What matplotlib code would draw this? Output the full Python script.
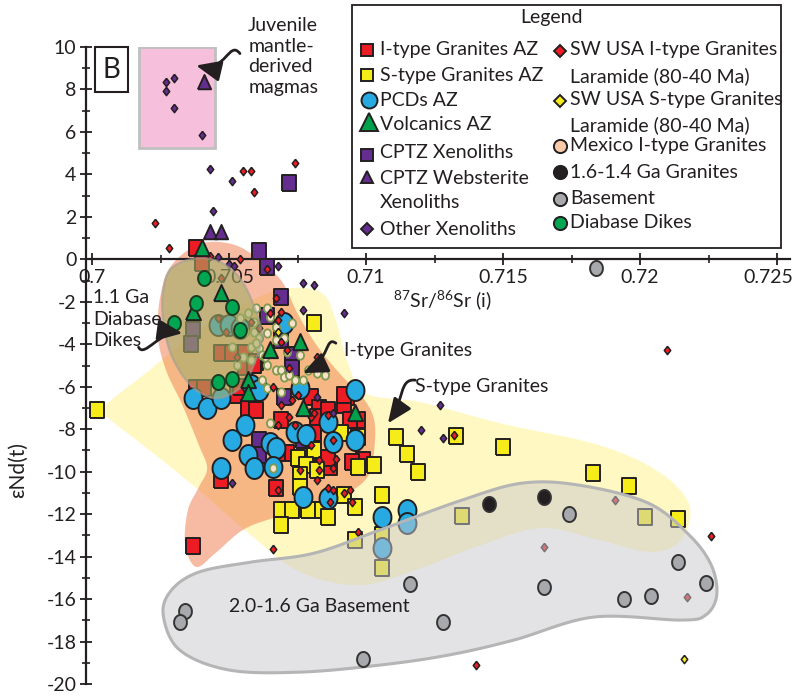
import numpy as np
import matplotlib
matplotlib.use("Agg")
import matplotlib.pyplot as plt
import matplotlib.transforms as mtransforms
from matplotlib.path import Path
from matplotlib.patches import Polygon, Rectangle, FancyArrowPatch
from matplotlib.lines import Line2D
from matplotlib.ticker import MultipleLocator, FixedLocator

plt.rcParams['font.family'] = ['Lato', 'DejaVu Sans']
plt.rcParams['axes.unicode_minus'] = False
plt.rcParams['mathtext.fontset'] = 'custom'
plt.rcParams['mathtext.rm'] = 'Lato'

# ---------------- data: (87Sr/86Sr(i), eNd(t)) ----------------
ITYPE = [(0.7038, 0.52), (0.7040, -0.19), (0.7038, -6.07), (0.7041, -6.07),
         (0.7047, -4.42), (0.7051, -4.42), (0.7056, -4.42), (0.7056, -5.08),
         (0.7060, -4.85), (0.7053, -6.40), (0.7057, -7.01), (0.7060, -7.11),
         (0.7062, -8.75), (0.7059, -4.99), (0.7054, -6.02), (0.7080, -6.49),
         (0.7083, -7.01), (0.7093, -6.49), (0.7092, -6.87), (0.7097, -7.58),
         (0.7082, -7.44), (0.7086, -7.11), (0.7080, -8.52), (0.7069, -7.58),
         (0.7071, -9.13), (0.7068, -9.13), (0.7099, -9.46), (0.7084, -9.55),
         (0.7087, -9.79), (0.7094, -7.58), (0.7086, -9.36), (0.7095, -9.55),
         (0.7067, -10.78), (0.7081, -8.19), (0.7037, -13.51), (0.7047, -10.40),
         (0.7092, -6.40)]

STYPE = [(0.7002, -7.11), (0.7081, -3.01), (0.7081, -8.99), (0.7075, -9.36),
         (0.7078, -9.69), (0.7082, -9.93), (0.7076, -10.16), (0.7076, -10.73),
         (0.7069, -11.81), (0.7073, -11.81), (0.7079, -11.81), (0.7084, -11.81),
         (0.7086, -12.14), (0.7069, -12.52), (0.7092, -11.11), (0.7096, -11.67),
         (0.7097, -9.79), (0.7103, -9.69), (0.7106, -11.11), (0.7111, -8.38),
         (0.7115, -9.18), (0.7119, -10.02), (0.7133, -8.33), (0.7150, -8.85),
         (0.7106, -12.99), (0.7106, -14.54), (0.7096, -13.22), (0.7135, -12.09),
         (0.7091, -8.19), (0.7183, -10.07), (0.7196, -10.68), (0.7202, -12.14),
         (0.7214, -12.24), (0.7097, -8.38)]

PCD = [(0.7037, -6.54), (0.7042, -7.01), (0.7047, -6.54), (0.7056, -7.81),
       (0.7051, -8.52), (0.7057, -9.22), (0.7047, -9.84), (0.7059, -9.84),
       (0.7065, -8.66), (0.7070, -3.01), (0.7046, -3.11), (0.7050, -3.11),
       (0.7054, -3.25), (0.7076, -6.07), (0.7096, -6.16), (0.7058, -5.93),
       (0.7061, -6.16), (0.7086, -7.67), (0.7074, -8.14), (0.7078, -8.28),
       (0.7088, -8.61), (0.7096, -8.52), (0.7067, -8.89), (0.7066, -9.79),
       (0.7077, -11.20), (0.7086, -11.25), (0.7106, -12.14), (0.7115, -11.81),
       (0.7115, -12.42), (0.7106, -13.60)]

VOLCANICS = [(0.7040, 0.52), (0.7047, -1.60), (0.7037, -2.49), (0.7065, -4.28),
             (0.7076, -3.91), (0.7057, -5.69), (0.7057, -6.31), (0.7077, -7.01),
             (0.7096, -7.25)]

CPTZ_XENO = [(0.7072, 3.58), (0.7061, 0.38), (0.7064, -0.38), (0.7069, -1.79),
             (0.7064, -2.68), (0.7069, -3.81), (0.7073, -4.52), (0.7073, -5.13),
             (0.7070, -6.49), (0.7061, -8.52), (0.7061, -9.22), (0.7077, -8.52),
             (0.7037, -3.34), (0.7036, -4.00)]

CPTZ_WEBST = [(0.7041, 8.33), (0.7043, 1.27), (0.7047, 1.27)]

OTHER_XENO = [(0.7027, 8.33), (0.7030, 8.52), (0.7027, 7.95), (0.7030, 7.15),
              (0.7040, 5.84), (0.7043, 4.24), (0.7051, 3.67), (0.7044, 2.26),
              (0.7046, 0.09), (0.7050, -0.24), (0.7052, -0.33), (0.7068, -0.33),
              (0.7077, -1.13), (0.7081, -1.22), (0.7077, -2.40), (0.7092, -2.54),
              (0.7127, -6.87), (0.7120, -8.05), (0.7128, -8.42), (0.7051, -10.54),
              (0.7082, -6.49), (0.7088, -7.25)]

SWUSA_I = [(0.7055, 4.14), (0.7058, 4.14), (0.7059, 3.15), (0.7074, 4.52),
           (0.7023, 1.69), (0.7028, 0.52), (0.7043, 0.14), (0.7054, 0.00),
           (0.7064, -0.47), (0.7210, -4.28), (0.7226, -13.04), (0.7191, -11.34),
           (0.7165, -13.55), (0.7217, -15.91), (0.7140, -19.11), (0.7066, -13.65),
           (0.7132, -8.28), (0.7047, -0.89), (0.7046, -2.78), (0.7049, -3.44),
           (0.7053, -4.61), (0.7058, -2.96), (0.7061, -3.25), (0.7065, -2.54),
           (0.7068, -2.87), (0.7069, -3.91), (0.7071, -4.28), (0.7072, -5.13),
           (0.7067, -1.84), (0.7084, -5.08), (0.7082, -4.61), (0.7066, -6.02),
           (0.7069, -6.87), (0.7072, -7.44), (0.7075, -6.40), (0.7074, -7.81),
           (0.7068, -7.81), (0.7080, -7.44), (0.7080, -8.75), (0.7088, -8.52),
           (0.7083, -9.93), (0.7076, -9.93), (0.7083, -9.46), (0.7073, -6.64),
           (0.7089, -9.41), (0.7088, -9.84), (0.7082, -10.40), (0.7086, -10.78),
           (0.7088, -10.87), (0.7087, -11.44), (0.7094, -10.87), (0.7095, -11.44),
           (0.7092, -11.01), (0.7097, -12.85), (0.7068, -10.87), (0.7081, -7.25),
           (0.7069, -2.49), (0.7086, -7.34)]

SWUSA_S = [(0.7068, -3.44), (0.7216, -18.82)]

MEXICO = [(0.7057, -2.54), (0.7059, -2.96), (0.7056, -3.44), (0.7059, -3.44),
          (0.7061, -3.72), (0.7058, -4.14), (0.7061, -4.19), (0.7062, -4.52),
          (0.7064, -2.31), (0.7065, -2.73), (0.7067, -3.20), (0.7064, -3.48),
          (0.7067, -3.81), (0.7064, -4.99), (0.7067, -5.22), (0.7069, -5.22),
          (0.7070, -5.55), (0.7072, -5.46), (0.7074, -5.69), (0.7073, -3.01),
          (0.7071, -4.38), (0.7077, -5.69), (0.7085, -5.46), (0.7064, -6.07),
          (0.7065, -7.72), (0.7069, -6.26), (0.7051, -4.14), (0.7058, -4.75),
          (0.7070, -3.72), (0.7060, -2.31), (0.7055, -4.61), (0.7053, -4.99),
          (0.7062, -5.69), (0.7076, -4.52), (0.7079, -5.22), (0.7082, -5.36),
          (0.7063, -4.61), (0.7066, -9.84), (0.7060, -3.95), (0.7054, -2.78)]

GRANITES_1614 = [(0.7145, -11.53), (0.7165, -11.20)]

BASEMENT = [(0.7174, -12.00), (0.7214, -14.26), (0.7224, -15.25), (0.7204, -15.86),
            (0.7194, -16.00), (0.7165, -15.44), (0.7116, -15.29), (0.7128, -17.08),
            (0.7034, -16.56), (0.7032, -17.08), (0.7099, -18.82), (0.7184, -0.42)]

DIABASE = [(0.7041, -0.89), (0.7051, -2.26), (0.7030, -3.01), (0.7054, -3.34),
           (0.7046, -5.79), (0.7051, -5.65), (0.7038, -2.07)]

# ---------------- compositional fields (outline vertices) ----------------
FIELD_STYPE = [(0.7004, -7.01), (0.7021, -5.22), (0.7039, -3.34), (0.7058, -1.93),
               (0.7072, -1.36), (0.7084, -1.60), (0.7089, -2.87), (0.7093, -4.75),
               (0.7100, -6.31), (0.7120, -6.73), (0.7149, -7.72), (0.7185, -8.75),
               (0.7207, -10.02), (0.7218, -11.58), (0.7215, -13.22), (0.7204, -13.79),
               (0.7185, -13.22), (0.7164, -12.66), (0.7142, -13.46), (0.7120, -14.54),
               (0.7098, -15.34), (0.7076, -14.73), (0.7058, -12.99), (0.7039, -10.87),
               (0.7021, -8.99), (0.7007, -7.58)]

FIELD_ITYPE = [(0.7025, -1.69), (0.7029, -0.28), (0.7039, 0.71), (0.7050, 0.75),
               (0.7059, 0.19), (0.7069, -0.99), (0.7075, -2.54), (0.7082, -4.05),
               (0.7091, -5.46), (0.7099, -6.54), (0.7103, -7.58), (0.7103, -8.99),
               (0.7101, -10.16), (0.7094, -10.96), (0.7081, -11.67), (0.7066, -12.19),
               (0.7055, -12.75), (0.7045, -13.84), (0.7038, -14.49), (0.7034, -13.46),
               (0.7035, -11.81), (0.7039, -10.73), (0.7042, -9.84), (0.7039, -8.75),
               (0.7033, -6.87), (0.7027, -5.22), (0.7024, -3.58)]

FIELD_DIABASE = [(0.7029, -0.42), (0.7038, 0.05), (0.7047, -0.14), (0.7054, -0.89),
                 (0.7059, -2.16), (0.7062, -3.58), (0.7059, -4.99), (0.7054, -6.07),
                 (0.7045, -6.54), (0.7036, -5.93), (0.7029, -4.52), (0.7026, -2.87),
                 (0.7026, -1.46)]

FIELD_BASEMENT = [(0.7026, -16.75), (0.7029, -15.58), (0.7039, -14.73), (0.7058, -14.26),
                  (0.7081, -13.84), (0.7105, -12.75), (0.7135, -11.34), (0.7157, -10.54),
                  (0.7178, -10.64), (0.7203, -11.48), (0.7218, -12.99), (0.7226, -14.40),
                  (0.7228, -15.81), (0.7224, -16.75), (0.7215, -16.99), (0.7183, -16.85),
                  (0.7154, -17.93), (0.7130, -18.64), (0.7105, -19.11), (0.7076, -19.44),
                  (0.7050, -19.34), (0.7032, -18.40)]

JUVENILE_BOX = (0.7017, 5.22, 0.70449, 9.98)   # x0, y0, x1, y1

XTICKS = [0.7, 0.705, 0.71, 0.715, 0.72, 0.725]
XTICK_LABELS = ['0.7', '0.705', '0.71', '0.715', '0.72', '0.725']

LEGEND_LEFT = ['I-type Granites AZ', 'S-type Granites AZ', 'PCDs AZ', 'Volcanics AZ',
               'CPTZ Xenoliths', 'CPTZ Websterite', 'Xenoliths', 'Other Xenoliths']
LEGEND_RIGHT = ['SW USA I-type Granites', 'Laramide (80-40 Ma)', 'SW USA S-type Granites',
                'Laramide (80-40 Ma)', 'Mexico I-type Granites', '1.6-1.4 Ga Granites',
                'Basement', 'Diabase Dikes']

# ---------------- styling ----------------
INK = '#231f20'
RED = '#ed1c24'
YELLOW = '#f5ec1a'
BLUE = '#27aae1'
GREEN = '#00a14b'
PURPLE = '#662d91'
GREY = '#a7a9ac'
DIAB_GREEN = '#00a651'
MEX_FACE = '#f8e2cc'
MEX_EDGE = '#7d9a4e'

_t = np.linspace(0, 2 * np.pi, 61)
ELLIPSE = np.column_stack([np.cos(_t), 1.17 * np.sin(_t)])
TALL_SQ = [(-1, -1.17), (1, -1.17), (1, 1.17), (-1, 1.17), (-1, -1.17)]
TRI = [(-0.88, -0.9), (0.88, -0.9), (0, 1.0), (-0.88, -0.9)]
DIAM = [(0, 1.1), (0.85, 0), (0, -1.1), (-0.85, 0), (0, 1.1)]


def smooth_closed(pts, n=24):
    p = np.asarray(pts, float)
    m = len(p)
    t = np.linspace(0, 1, n, endpoint=False)[:, None]
    out = []
    for i in range(m):
        p0, p1, p2, p3 = p[i - 1], p[i], p[(i + 1) % m], p[(i + 2) % m]
        out.append(0.5 * (2 * p1 + (-p0 + p2) * t + (2 * p0 - 5 * p1 + 4 * p2 - p3) * t ** 2
                          + (-p0 + 3 * p1 - 3 * p2 + p3) * t ** 3))
    return np.vstack(out)


fig = plt.figure(figsize=(7.99, 6.97), dpi=100)
ax = fig.add_axes([86 / 799, 13 / 697, 704 / 799, 637 / 697])
ax.set_xlim(0.699781, 0.725474)
ax.set_ylim(-20, 10)

# fields
ax.add_patch(Polygon(smooth_closed(FIELD_STYPE), closed=True, fc='#fff8c2', ec='none', zorder=1))
ax.add_patch(Polygon(smooth_closed(FIELD_ITYPE), closed=True, fc='#f07848', alpha=0.5, ec='none', zorder=1.5))
x0, y0, x1, y1 = JUVENILE_BOX
ax.add_patch(Rectangle((x0, y0), x1 - x0, y1 - y0, fc='#f6bfdc', ec='#c0c0c0', lw=2, zorder=2))


def pts(data, marker, s, fc, ec=INK, lw=1.4, z=3):
    a = np.asarray(data)
    ax.scatter(a[:, 0], a[:, 1], marker=marker, s=s, facecolors=fc, edgecolors=ec,
               linewidths=lw, zorder=z)


pts(ITYPE, TALL_SQ, 125, RED, z=3.0)
pts(STYPE, TALL_SQ, 125, YELLOW, z=3.1)
pts(CPTZ_XENO, TALL_SQ, 125, PURPLE, z=3.2)
pts(PCD, ELLIPSE, 228, BLUE, z=3.3)
pts(MEXICO, ELLIPSE, 36, MEX_FACE, ec=MEX_EDGE, lw=1.3, z=3.4)
pts(OTHER_XENO, DIAM, 36, PURPLE, lw=1.1, z=3.6)
pts(SWUSA_I, DIAM, 36, RED, lw=1.1, z=3.6)
pts(SWUSA_S, DIAM, 36, YELLOW, lw=1.1, z=3.6)

ax.add_patch(Polygon(smooth_closed(FIELD_DIABASE), closed=True, fc='#a3ac66', alpha=0.6,
                     ec='#a09d96', lw=1.6, zorder=4))
ax.add_patch(Polygon(smooth_closed(FIELD_BASEMENT), closed=True, fc='#c8c9cd', alpha=0.5,
                     ec='none', zorder=4))
ax.add_patch(Polygon(smooth_closed(FIELD_BASEMENT), closed=True, fc='none',
                     ec='#b5b5b5', lw=2.2, zorder=4.1))

pts(VOLCANICS, TRI, 150, GREEN, z=4.5)
pts(CPTZ_WEBST, TRI, 117, PURPLE, z=4.5)
pts(DIABASE, ELLIPSE, 117, DIAB_GREEN, ec='#1c3a1f', z=4.6)
pts(BASEMENT, ELLIPSE, 117, GREY, ec='#333333', z=4.6)
pts(GRANITES_1614, ELLIPSE, 117, INK, ec='#333333', z=4.6)

# axes styling
for side in ('top', 'right'):
    ax.spines[side].set_visible(False)
ax.spines['bottom'].set_position(('data', 0))
for side in ('left', 'bottom'):
    ax.spines[side].set_linewidth(1.6)
    ax.spines[side].set_color(INK)
ax.xaxis.set_major_locator(FixedLocator(XTICKS))
ax.set_xticklabels(XTICK_LABELS)
ax.xaxis.set_minor_locator(MultipleLocator(0.0025))
ax.yaxis.set_major_locator(MultipleLocator(2))
ax.yaxis.set_minor_locator(MultipleLocator(1))
ax.tick_params(which='major', direction='inout', length=8, width=1.3, colors=INK,
               labelsize=14, pad=3)
ax.tick_params(which='minor', direction='inout', length=6, width=1.2, colors=INK)
ax.patch.set_visible(False)
# keep the last x label inside the canvas
last = ax.get_xticklabels()[-1]
last.set_transform(last.get_transform() +
                   mtransforms.ScaledTranslation(-6 / 72, 0, fig.dpi_scale_trans))

# annotations
TXT = dict(color=INK, fontsize=14)
ax.text(0.7057, 11.40, "Juvenile\nmantle-\nderived\nmagmas", va='top', ha='left',
        linespacing=1.25, **TXT)
ax.text(0.70004, -1.40, "1.1 Ga\nDiabase\nDikes", va='top', ha='left', linespacing=1.32,
        zorder=6, **TXT)
ax.text(0.7092, -4.28, "I-type Granites", va='center', ha='left', zorder=6, **TXT)
ax.text(0.7118, -5.98, "S-type Granites", va='center', ha='left', zorder=6, **TXT)
ax.text(0.7050, -16.33, "2.0-1.6 Ga Basement", va='center', ha='left', zorder=6, **TXT)
ax.text(0.7128, -1.93, r"$^{87}$Sr/$^{86}$Sr (i)", va='center', ha='center', zorder=6, **TXT)
fig.text(18 / 799, 1 - 470 / 697, "εNd(t)", rotation=90, ha='center', va='center',
         color=INK, fontsize=15)


def curved_arrow(p0, c1, c2, p1):
    path = Path([p0, c1, c2, p1], [Path.MOVETO, Path.CURVE4, Path.CURVE4, Path.CURVE4])
    arr = FancyArrowPatch(path=path, arrowstyle='-|>,head_length=0.75,head_width=0.32',
                          mutation_scale=20, lw=2, color=INK, zorder=7, clip_on=False,
                          transform=ax.transData)
    ax.add_patch(arr)


curved_arrow((0.7054, 9.69), (0.7050, 10.35), (0.7049, 8.8), (0.7038, 9.13))
curved_arrow((0.7017, -4.14), (0.7019, -4.66), (0.7025, -3.34), (0.7033, -3.48))
curved_arrow((0.7089, -3.95), (0.7085, -3.58), (0.7087, -4.75), (0.7077, -5.36))
curved_arrow((0.7118, -5.69), (0.7112, -5.60), (0.7114, -6.64), (0.7108, -7.72))

# panel tag
fig.add_artist(Rectangle((95 / 799, 1 - 92 / 697), 33 / 799, 45 / 697, transform=fig.transFigure,
                         fc='white', ec=INK, lw=1.5, zorder=10))
fig.text(111.5 / 799, 1 - 70 / 697, "B", ha='center', va='center', fontsize=20, color=INK,
         zorder=11)

# legend box
def fx(px):
    return px / 799


def fy(py):
    return 1 - py / 697


fig.add_artist(Rectangle((fx(352), fy(248)), fx(781) - fx(352), fy(5) - fy(248),
                         transform=fig.transFigure, fc='white', ec=INK, lw=1.3, zorder=10))
fig.text(fx(551), fy(18), "Legend", ha='center', va='center', fontsize=14, color=INK, zorder=11)

left_rows = [50, 75, 100, 124, 152, 179, 203, 229]
right_rows = [50, 76, 100, 125, 146, 172, 199, 223]
for lab, py in zip(LEGEND_LEFT, left_rows):
    fig.text(fx(380), fy(py), lab, ha='left', va='center', fontsize=14, color=INK, zorder=11)
for lab, py in zip(LEGEND_RIGHT, right_rows):
    fig.text(fx(570), fy(py), lab, ha='left', va='center', fontsize=14, color=INK, zorder=11)

legend_marks = [
    (367, 50, 's', 8.6, RED, INK), (367, 75, 's', 8.6, YELLOW, INK),
    (369, 100, 'o', 11.5, BLUE, INK), (369, 122, '^', 12.5, GREEN, INK),
    (367, 155, 's', 8.6, PURPLE, INK), (367, 177, '^', 9, PURPLE, INK),
    (367, 229, 'D', 6.2, PURPLE, INK),
    (560, 51, 'D', 6.2, RED, INK), (560, 101, 'D', 6.2, YELLOW, INK),
    (560, 146, 'o', 9.5, '#f9c9a8', INK), (560, 172, 'o', 9.5, INK, INK),
    (560, 199, 'o', 9.5, GREY, INK), (560, 223, 'o', 9.5, DIAB_GREEN, INK),
]
for px, py, m, ms, fc, ec in legend_marks:
    fig.add_artist(Line2D([fx(px)], [fy(py)], marker=m, markersize=ms, markerfacecolor=fc,
                          markeredgecolor=ec, markeredgewidth=1.4, linestyle='none',
                          transform=fig.transFigure, zorder=11))

fig.savefig("out.png", dpi=100)
